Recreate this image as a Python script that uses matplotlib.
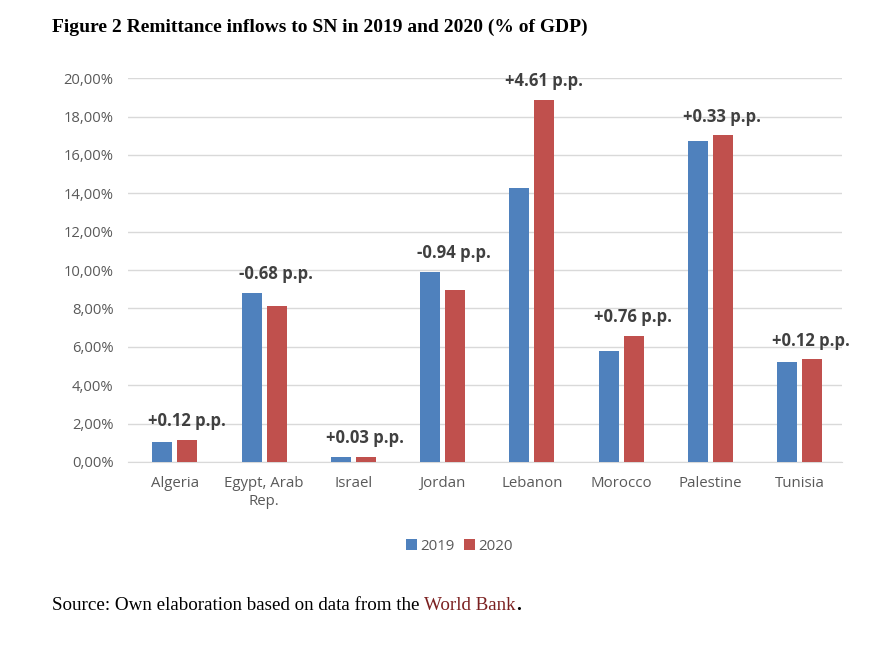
"""Remittance inflows to SN, 2019 vs 2020 (% of GDP)."""

import matplotlib

matplotlib.use("Agg")
import matplotlib.pyplot as plt
import numpy as np
from matplotlib.ticker import FuncFormatter

countries = ["Algeria", "Egypt, Arab\nRep.", "Israel", "Jordan", "Lebanon",
             "Morocco", "Palestine", "Tunisia"]
vals_2019 = [1.03, 8.80, 0.23, 9.90, 14.27, 5.80, 16.70, 5.22]
vals_2020 = [1.15, 8.12, 0.26, 8.96, 18.88, 6.56, 17.03, 5.34]
change_labels = ["+0.12 p.p.", "-0.68 p.p.", "+0.03 p.p.", "-0.94 p.p.",
                 "+4.61 p.p.", "+0.76 p.p.", "+0.33 p.p.", "+0.12 p.p."]

BLUE = "#4F81BD"
RED = "#C0504D"
GREY = "#595959"
SANS = "Open Sans"
SERIF = "Liberation Serif"

fig = plt.figure(figsize=(8.74, 6.57), dpi=100)
ax = fig.add_axes([0.146, 0.297, 0.817, 0.584])

x = np.arange(len(countries))
w = 0.225
off = 0.14
ax.bar(x - off + 0.03, vals_2019, w, color=BLUE, label="2019", zorder=3)
ax.bar(x + off + 0.03, vals_2020, w, color=RED, label="2020", zorder=3)

for i, lab in enumerate(change_labels):
    top = max(vals_2019[i], vals_2020[i])
    ax.text(x[i] + 0.16, top + 0.5, lab, ha="center", va="bottom",
            fontsize=12, fontweight="bold", color="#404040", family=SANS)

ax.set_xlim(-0.5, len(countries) - 0.5)
ax.set_ylim(0, 20)
ax.set_yticks(np.arange(0, 21, 2))
ax.yaxis.set_major_formatter(
    FuncFormatter(lambda v, _: f"{v:.2f}%".replace(".", ",")))
ax.set_xticks(x + 0.03)
ax.set_xticklabels(countries, fontsize=10.8, color=GREY, family=SANS,
                   linespacing=1.25)
for t in ax.get_yticklabels():
    t.set_fontsize(10.6)
    t.set_color(GREY)
    t.set_family(SANS)
ax.tick_params(axis="both", length=0)
ax.tick_params(axis="x", pad=10)
ax.tick_params(axis="y", pad=10)

ax.grid(axis="y", color="#D9D9D9", linewidth=1, zorder=0)
for name in ("top", "right", "left"):
    ax.spines[name].set_visible(False)
ax.spines["bottom"].set_color("#D9D9D9")

ax.legend(loc="upper center", bbox_to_anchor=(0.465, -0.165), ncol=2,
          frameon=False, handlelength=0.7, handleheight=0.7,
          handletextpad=0.25, columnspacing=0.6,
          prop={"family": SANS, "size": 10.8}, labelcolor=GREY)

fig.text(52 / 874, 1 - 27 / 657, "Figure 2 Remittance inflows to SN in 2019 and 2020 (% of GDP)",
         fontsize=14, fontweight="bold", family=SERIF, va="center", color="black")

src = fig.text(52 / 874, 1 - 606 / 657, "Source: Own elaboration based on data from the ",
               fontsize=13.7, family=SERIF, va="center", color="black")
wb = ax.annotate("World Bank", xy=(1, 0), xycoords=src, va="bottom", ha="left",
                 fontsize=13.7, family=SERIF, color="#7B2020", annotation_clip=False)
ax.annotate(".", xy=(1, 0), xycoords=wb, va="bottom", ha="left",
            fontsize=13.7, family=SERIF, fontweight="bold", color="black",
            annotation_clip=False)

fig.savefig("out.png", dpi=100, facecolor="white")
